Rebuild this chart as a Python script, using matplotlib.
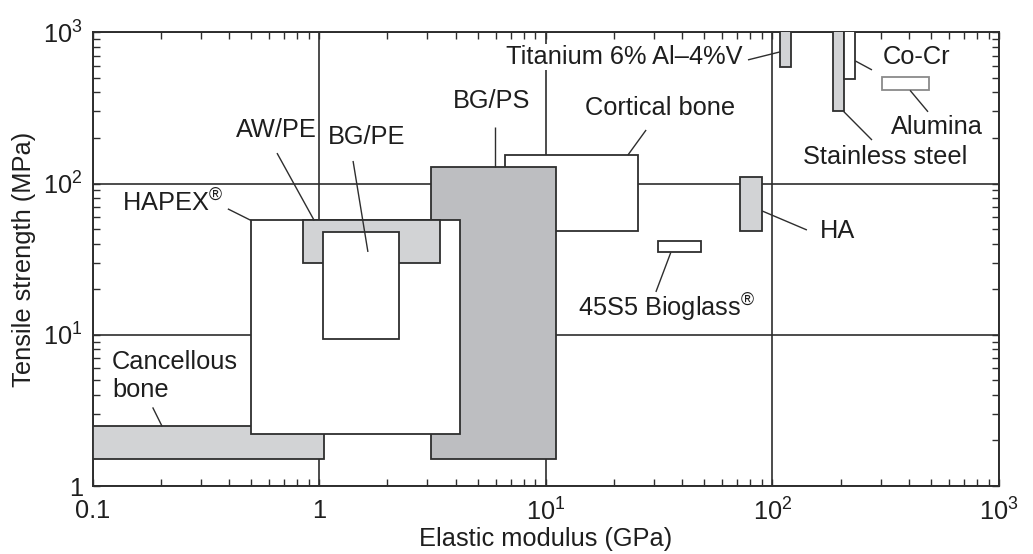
import matplotlib
matplotlib.use("Agg")
import matplotlib.pyplot as plt
from matplotlib.patches import Rectangle
from matplotlib.ticker import FixedLocator, FixedFormatter, LogLocator, NullFormatter

plt.rcParams['font.family'] = ['Liberation Sans', 'DejaVu Sans']
plt.rcParams['mathtext.fontset'] = 'custom'
plt.rcParams['mathtext.rm'] = 'Liberation Sans'
plt.rcParams['mathtext.default'] = 'regular'

# ---------------- data (drawing order = stacking order) ----------------
materials = ["Cancellous bone", "Cortical bone", "BG/PS", "HAPEX", "AW/PE", "BG/PE",
             "45S5 Bioglass", "HA", "Titanium 6% Al-4%V", "Stainless steel", "Co-Cr", "Alumina"]
modulus_lo = [0.10, 6.6, 3.1, 0.50, 0.85, 1.04, 31.4, 72, 108, 186, 206, 305]
modulus_hi = [1.05, 25.5, 11.1, 4.2, 3.4, 2.24, 48.3, 90, 121, 206, 232, 490]
strength_lo = [1.5, 48.6, 1.5, 2.2, 30, 9.4, 35, 48.6, 592, 300, 494, 413]
strength_hi = [2.5, 154, 129, 57, 57, 47.6, 41.4, 110, 1200, 1200, 1200, 505]
fill_kind = ["light", "white", "dark", "white", "light", "white",
             "white", "light", "light", "light", "white", "white"]

x_ticks = [0.1, 1, 10, 100, 1000]
x_tick_labels = ["0.1", "1", "$10^{1}$", "$10^{2}$", "$10^{3}$"]
y_ticks = [1, 10, 100, 1000]
y_tick_labels = ["1", "$10^{1}$", "$10^{2}$", "$10^{3}$"]

# ---------------- styles / layout ----------------
FILL = {"light": "#d2d3d5", "dark": "#bdbec1", "white": "white"}
EDGE = "#2e2e2e"
TXT = "#1e1e1e"
FS = 18.3

fig = plt.figure(figsize=(10.33, 5.54), dpi=100)
ax = fig.add_axes([0.0897, 0.1227, 0.8774, 0.819])
ax.set_xscale("log")
ax.set_yscale("log")
ax.set_xlim(0.1, 1000)
ax.set_ylim(1, 1000)

for name, x0, x1, y0, y1, k in zip(materials, modulus_lo, modulus_hi, strength_lo, strength_hi, fill_kind):
    ec = "#8a8a8a" if name == "Alumina" else EDGE
    ax.add_patch(Rectangle((x0, y0), x1 - x0, y1 - y0, facecolor=FILL[k],
                           edgecolor=ec, linewidth=1.3, zorder=3, clip_on=True))

# grid (behind the boxes)
ax.grid(True, which="major", color=EDGE, linewidth=1.2)
ax.set_axisbelow(True)

ax.xaxis.set_major_locator(FixedLocator(x_ticks))
ax.xaxis.set_major_formatter(FixedFormatter(x_tick_labels))
ax.yaxis.set_major_locator(FixedLocator(y_ticks))
ax.yaxis.set_major_formatter(FixedFormatter(y_tick_labels))
ax.xaxis.set_minor_locator(LogLocator(base=10, subs=range(2, 10), numticks=20))
ax.yaxis.set_minor_locator(LogLocator(base=10, subs=range(2, 10), numticks=20))
ax.xaxis.set_minor_formatter(NullFormatter())
ax.yaxis.set_minor_formatter(NullFormatter())
ax.tick_params(which="both", direction="in", top=True, right=True, length=5,
               width=1.0, color=EDGE, labelsize=FS, labelcolor=TXT)
ax.tick_params(axis="x", which="major", pad=9)
ax.tick_params(axis="y", which="major", pad=7)
for s in ax.spines.values():
    s.set_linewidth(1.4)
    s.set_color(EDGE)

ax.set_xlabel("Elastic modulus (GPa)", fontsize=FS, color=TXT, labelpad=1)
ax.set_ylabel("Tensile strength (MPa)", fontsize=FS, color=TXT, labelpad=5)

# labels: (text, text position, leader start, leader end)
labels = [
    ("HAPEX$^{®}$", (0.224, 74.5), (0.395, 68), (0.50, 57)),
    ("AW/PE", (0.644, 226), (0.651, 159), (0.95, 57)),
    ("BG/PE", (1.62, 203), (1.41, 141), (1.64, 35.3)),
    ("BG/PS", (5.78, 352), (5.96, 237), (5.96, 129)),
    ("Titanium 6% Al–4%V", (22.1, 688), (78, 657), (108, 742)),
    ("Cortical bone", (31.9, 316), (27.7, 226), (23.0, 154)),
    ("Co-Cr", (434, 688), (275, 564), (232, 647)),
    ("Alumina", (532, 237), (486, 298), (405, 413)),
    ("Stainless steel", (314, 150), (275, 194), (206, 300)),
    ("HA", (194.5, 48.6), (142, 49.3), (90, 65.9)),
    ("45S5 Bioglass$^{®}$", (34.2, 15.0), (30.6, 19.2), (35.6, 35)),
]
for txt, (tx, ty), (lx0, ly0), (lx1, ly1) in labels:
    kw = {}
    if txt.startswith("Titanium"):
        kw["bbox"] = dict(facecolor="white", edgecolor="none", pad=1.0)
    ax.text(tx, ty, txt, fontsize=FS, color=TXT, ha="center", va="center", zorder=5, **kw)
    ax.plot([lx0, lx1], [ly0, ly1], color=EDGE, linewidth=1.0, zorder=4,
            solid_capstyle="butt")

ax.text(0.1217, 5.34, "Cancellous\nbone", fontsize=FS, color=TXT, ha="left",
        va="center", linespacing=1.22, zorder=5)
ax.plot([0.1846, 0.202], [3.28, 2.5], color=EDGE, linewidth=1.0, zorder=4)

fig.savefig("out.png", dpi=100)
